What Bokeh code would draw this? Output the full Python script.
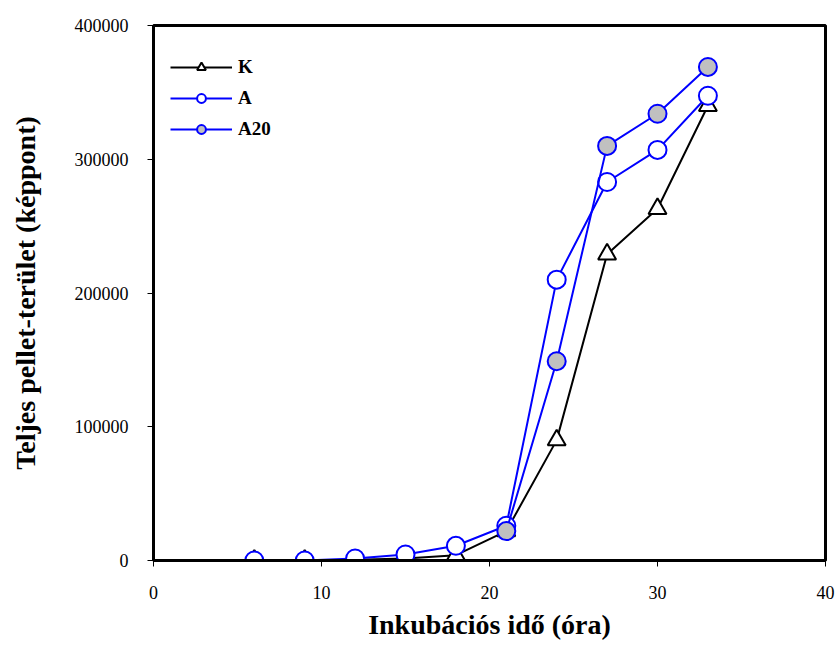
from bokeh.plotting import figure
from bokeh.models import Range1d, FixedTicker, PrintfTickFormatter
from bokeh.embed import file_html
from bokeh.resources import INLINE

nan = float("nan")

# Data
hours = [6, 9, 12, 15, 18, 21, 24, 27, 30, 33]
K = [0, 0, 500, 1500, 4000, 22000, 90000, 229000, 263000, 340000]
A = [0, 0, 1500, 4500, 11000, 26000, 210000, 283000, 307000, 347500]
A20 = [nan, nan, nan, nan, nan, 22000, 149000, 310000, 334000, 369000]

x_ticks = [0, 10, 20, 30, 40]
y_ticks = [0, 100000, 200000, 300000, 400000]

FONT = "'Liberation Serif', 'Times New Roman', 'DejaVu Serif', serif"

p = figure(width=837, height=657, output_backend="svg", toolbar_location=None,
           x_range=Range1d(0, 40), y_range=Range1d(0, 400000),
           min_border_left=153, min_border_right=12, min_border_top=25,
           min_border_bottom=97)

p.grid.visible = False
p.outline_line_color = "black"
p.outline_line_width = 3
p.background_fill_color = "white"
p.border_fill_color = "white"

for ax in (p.xaxis[0], p.yaxis[0]):
    ax.axis_line_width = 3
    ax.axis_line_color = "black"
    ax.major_tick_in = 0
    ax.major_tick_out = 6
    ax.major_tick_line_width = 1
    ax.minor_tick_line_color = None
    ax.major_label_text_font = FONT
    ax.major_label_text_font_size = "18px"
    ax.major_label_text_color = "black"
    ax.axis_label_text_font = FONT
    ax.axis_label_text_font_style = "bold"
    ax.axis_label_text_color = "black"

p.xaxis.ticker = FixedTicker(ticks=x_ticks)
p.yaxis.ticker = FixedTicker(ticks=y_ticks)
p.yaxis.formatter = PrintfTickFormatter(format="%d")
p.xaxis.major_label_standoff = 19
p.yaxis.major_label_standoff = 19
p.xaxis.axis_label = "Inkubációs idő (óra)"
p.yaxis.axis_label = "Teljes pellet-terület (képpont)"
p.xaxis.axis_label_text_font_size = "28px"
p.yaxis.axis_label_text_font_size = "28px"
p.xaxis.axis_label_standoff = 7
p.yaxis.axis_label_standoff = 31

# K series
p.line(hours, K, line_color="black", line_width=2, legend_label="K")
p.scatter(hours, K, marker="triangle", size=18, fill_color="white",
          line_color="black", line_width=2, legend_label="K")
# A series
p.line(hours, A, line_color="#0000FF", line_width=2, legend_label="A")
p.scatter(hours, A, marker="circle", size=18, fill_color="white",
          line_color="#0000FF", line_width=2, legend_label="A")
# A20 series
p.line(hours, A20, line_color="#0000FF", line_width=2, legend_label="A20")
p.scatter(hours, A20, marker="circle", size=18, fill_color="#C0C0C0",
          line_color="#0000FF", line_width=2, legend_label="A20")

lg = p.legend[0]
lg.location = (17, 420)
lg.margin = 0
lg.padding = 4
lg.border_line_color = None
lg.background_fill_alpha = 0
lg.glyph_width = 62
lg.glyph_height = 22
lg.spacing = 9
lg.label_standoff = 6
lg.label_text_font = FONT
lg.label_text_font_style = "bold"
lg.label_text_font_size = "19px"
lg.label_text_color = "black"

open("out.html", "w").write(file_html(p, INLINE))
